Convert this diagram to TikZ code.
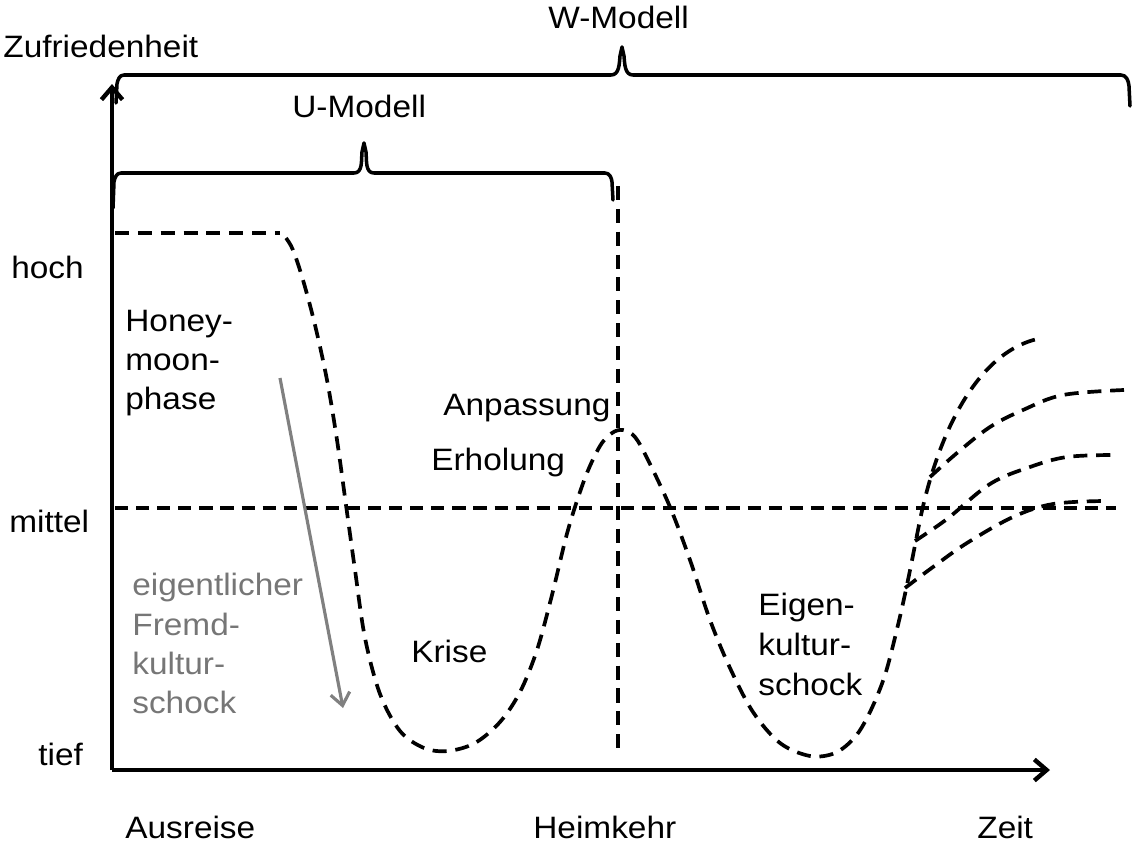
\documentclass[tikz,border=0pt]{standalone}
\usepackage{fontspec}
\setmainfont{Liberation Sans}[FakeStretch=1.08]
\usetikzlibrary{arrows.meta}
\definecolor{txtgray}{RGB}{118,118,118}
\definecolor{arrgray}{RGB}{128,128,128}
\begin{document}
\begin{tikzpicture}[x=0.02cm,y=-0.02cm,
  lbl/.style={anchor=base west,inner sep=0pt,font=\fontsize{17.6}{22.7}\selectfont},
  glbl/.style={lbl,text=txtgray},
  axisline/.style={line width=2.5pt,-{Straight Barb[length=7pt,width=12pt,line width=2.5pt]}},
  bracel/.style={line width=2pt,line join=round,line cap=round},
  dl/.style={line width=2.1pt,dash pattern=on 8pt off 5pt},
  dlm/.style={line width=2.1pt,dash pattern=on 7.5pt off 4.5pt}]
\useasboundingbox (0,0) rectangle (1134,842);

% axes
\coordinate (O) at (112,770);
\coordinate (ytip) at (112,84);
\coordinate (xtip) at (1050,770);
\draw[axisline] (O) -- (ytip);
\draw[axisline] (O) -- (xtip);

% braces
\coordinate (wl) at (116,103);
\coordinate (wtip) at (622,47);
\coordinate (wr) at (1130,106);
\draw[bracel] (wl) -- (117,84) to[out=80,in=180] (124,75) -- (611,75)
  to[out=0,in=-95] (620,56) -- (wtip) -- (624,56) to[out=-85,in=180] (633,75)
  -- (1121,75) to[out=0,in=95] (1129,86) -- (wr);
\coordinate (ul) at (113,208);
\coordinate (utip) at (364,143);
\coordinate (ur) at (613,200);
\draw[bracel] (ul) -- (114,182) to[out=80,in=180] (121,173) -- (354,173)
  to[out=0,in=-95] (362,152) -- (utip) -- (366,152) to[out=-85,in=180] (374,173)
  -- (605,173) to[out=0,in=95] (612,182) -- (ur);

% reference lines
\coordinate (vt) at (618,186);
\coordinate (vb) at (618,756);
\draw[dl] (vt) -- (vb);
\coordinate (ml) at (115,508);
\coordinate (mr) at (1116,508);
\draw[dlm] (ml) -- (mr);

% main curve
\coordinate (hs) at (115,233);
\coordinate (he) at (280,233);
\coordinate (cend) at (1042,338);
\draw[dl] (hs) -- (he);
\draw[dl] plot[smooth,tension=0.55] coordinates {(286,238) (293,250) (303,280) (315,325) (327,380) (337,440) (346,505) (355,570) (365,638) (380,694) (400,731) (424,748) (448,751) (475,743) (500,722) (520,692) (537,650) (552,595) (568,530) (585,478) (600,446) (612,433) (623,430) (635,437) (648,460) (670,507) (690,560) (710,620) (730,668) (753,712) (780,743) (810,756) (835,753) (855,737) (870,712) (885,675) (898,625) (908,580) (918,530)}
  .. controls (935,440) and (975,350) .. (cend);

% further curves
\draw[dl] plot[smooth,tension=0.6] coordinates {(930,477) (957,453) (990,427) (1023,410) (1063,395) (1124,390)};
\draw[dl] plot[smooth,tension=0.6] coordinates {(915,541) (947,519) (990,484) (1030,467) (1067,457) (1113,455)};
\draw[dl] plot[smooth,tension=0.6] coordinates {(905,588) (933,567) (967,543) (1013,517) (1053,504) (1104,501)};

% gray arrow
\coordinate (ga) at (280,378);
\coordinate (gb) at (343,708);
\draw[arrgray,line width=1.8pt,-{Straight Barb[length=7pt,width=11pt,line width=1.8pt]}] (ga) -- (gb);

% labels
\node[lbl] (zuf) at (3,57) {Zufriedenheit};
\node[lbl] (wmod) at (548,28) {W-Modell};
\node[lbl] (umod) at (292,117) {U-Modell};
\node[lbl] (hoch) at (11,278) {hoch};
\node[lbl] (mittel) at (9,532) {mittel};
\node[lbl] (tief) at (38,765) {tief};
\node[lbl] (hon1) at (125,331) {Honey-};
\node[lbl] (hon2) at (125,370) {moon-};
\node[lbl] (hon3) at (125,409) {phase};
\node[glbl] (ef1) at (132,595) {eigentlicher};
\node[glbl] (ef2) at (132,635) {Fremd-};
\node[glbl] (ef3) at (132,674) {kultur-};
\node[glbl] (ef4) at (132,713) {schock};
\node[lbl] (anp) at (443,415) {Anpassung};
\node[lbl] (erh) at (431,470) {Erholung};
\node[lbl] (krise) at (411,662) {Krise};
\node[lbl] (eig1) at (758,615) {Eigen-};
\node[lbl] (eig2) at (758,655) {kultur-};
\node[lbl] (eig3) at (758,695) {schock};
\node[lbl] (aus) at (125,838) {Ausreise};
\node[lbl] (heim) at (533,838) {Heimkehr};
\node[lbl] (zeit) at (977,838) {Zeit};
\end{tikzpicture}
\end{document}
